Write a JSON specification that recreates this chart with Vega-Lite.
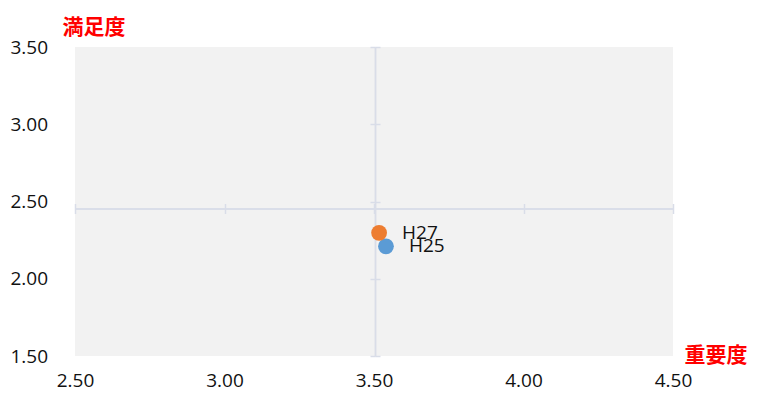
{
  "$schema": "https://vega.github.io/schema/vega-lite/v6.json",
  "width": 598,
  "height": 309,
  "autosize": {"type": "none"},
  "padding": {"left": 75, "top": 47, "right": 103, "bottom": 49},
  "background": "white",
  "config": {
    "view": {"fill": "#f2f2f2", "stroke": null},
    "font": "Open Sans"
  },
  "data": {
    "values": [
      {"year": "H25", "importance": 3.54, "satisfaction": 2.21},
      {"year": "H27", "importance": 3.517, "satisfaction": 2.297}
    ]
  },
  "encoding": {
    "x": {
      "field": "importance",
      "type": "quantitative",
      "scale": {"domain": [2.5, 4.5], "nice": false, "zero": false},
      "axis": null
    },
    "y": {
      "field": "satisfaction",
      "type": "quantitative",
      "scale": {"domain": [1.5, 3.5], "nice": false, "zero": false},
      "axis": null
    }
  },
  "layer": [
    {
      "mark": {"type": "point", "opacity": 0},
      "encoding": {
        "x": {
          "field": "importance",
          "type": "quantitative",
          "scale": {"domain": [2.5, 4.5], "nice": false, "zero": false},
          "axis": {
            "orient": "bottom",
            "offset": -147.5,
            "values": [2.5, 3, 3.5, 4, 4.5],
            "domainColor": "#d9dde8",
            "domainWidth": 1.5,
            "tickColor": "#d9dde8",
            "tickSize": 5,
            "tickWidth": 1.5,
            "labels": false,
            "grid": false,
            "title": null
          }
        },
        "y": {
          "field": "satisfaction",
          "type": "quantitative",
          "scale": {"domain": [1.5, 3.5], "nice": false, "zero": false},
          "axis": {
            "orient": "left",
            "offset": -300,
            "values": [1.5, 2, 2.5, 3, 3.5],
            "domainColor": "#d9dde8",
            "domainWidth": 1.5,
            "tickColor": "#d9dde8",
            "tickSize": 5,
            "tickWidth": 1.5,
            "labels": false,
            "grid": false,
            "title": null
          }
        }
      }
    },
    {
      "mark": {"type": "point", "opacity": 0},
      "encoding": {
        "x": {
          "field": "importance",
          "type": "quantitative",
          "scale": {"domain": [2.5, 4.5], "nice": false, "zero": false},
          "axis": {
            "orient": "top",
            "offset": -161.5,
            "values": [2.5, 3, 3.5, 4, 4.5],
            "domainColor": "#d9dde8",
            "domainWidth": 1.5,
            "tickColor": "#d9dde8",
            "tickSize": 5,
            "tickWidth": 1.5,
            "labels": false,
            "grid": false,
            "title": null
          }
        },
        "y": {
          "field": "satisfaction",
          "type": "quantitative",
          "scale": {"domain": [1.5, 3.5], "nice": false, "zero": false},
          "axis": {
            "orient": "right",
            "offset": -298,
            "values": [1.5, 2, 2.5, 3, 3.5],
            "domainColor": "#d9dde8",
            "domainWidth": 1.5,
            "tickColor": "#d9dde8",
            "tickSize": 5,
            "tickWidth": 1.5,
            "labels": false,
            "grid": false,
            "title": null
          }
        }
      }
    },
    {
      "mark": {"type": "point", "opacity": 0},
      "encoding": {
        "x": {
          "field": "importance",
          "type": "quantitative",
          "scale": {"domain": [2.5, 4.5], "nice": false, "zero": false},
          "axis": {
            "orient": "bottom",
            "values": [2.5, 3, 3.5, 4, 4.5],
            "format": ".2f",
            "domain": false,
            "ticks": false,
            "grid": false,
            "labelPadding": 15,
            "labelFontSize": 19,
            "labelColor": "#111111",
            "labelFlush": false,
            "title": "重要度",
            "titleFont": "Noto Sans CJK JP",
            "titleFontSize": 21,
            "titleFontWeight": "bold",
            "titleColor": "#ff0000",
            "titleAlign": "left",
            "titleBaseline": "middle",
            "titleAnchor": "start",
            "titleX": 609,
            "titleY": -1
          }
        },
        "y": {
          "field": "satisfaction",
          "type": "quantitative",
          "scale": {"domain": [1.5, 3.5], "nice": false, "zero": false},
          "axis": {
            "orient": "left",
            "values": [1.5, 2, 2.5, 3, 3.5],
            "format": ".2f",
            "domain": false,
            "ticks": false,
            "grid": false,
            "labelAlign": "left",
            "labelPadding": 65,
            "labelFontSize": 19,
            "labelColor": "#111111",
            "labelFlush": false,
            "title": "満足度",
            "titleFont": "Noto Sans CJK JP",
            "titleFontSize": 21,
            "titleFontWeight": "bold",
            "titleColor": "#ff0000",
            "titleAngle": 0,
            "titleAlign": "left",
            "titleBaseline": "middle",
            "titleX": -13,
            "titleY": -20
          }
        }
      }
    },
    {
      "mark": {"type": "point", "filled": true, "opacity": 1, "size": 250},
      "encoding": {
        "color": {
          "field": "year",
          "type": "nominal",
          "scale": {"domain": ["H25", "H27"], "range": ["#5B9BD5", "#ED7D31"]},
          "legend": null
        }
      }
    },
    {
      "mark": {"type": "text", "align": "left", "baseline": "middle", "dx": 23, "fontSize": 19, "color": "#111111"},
      "encoding": {
        "text": {"field": "year", "type": "nominal"}
      }
    }
  ]
}
